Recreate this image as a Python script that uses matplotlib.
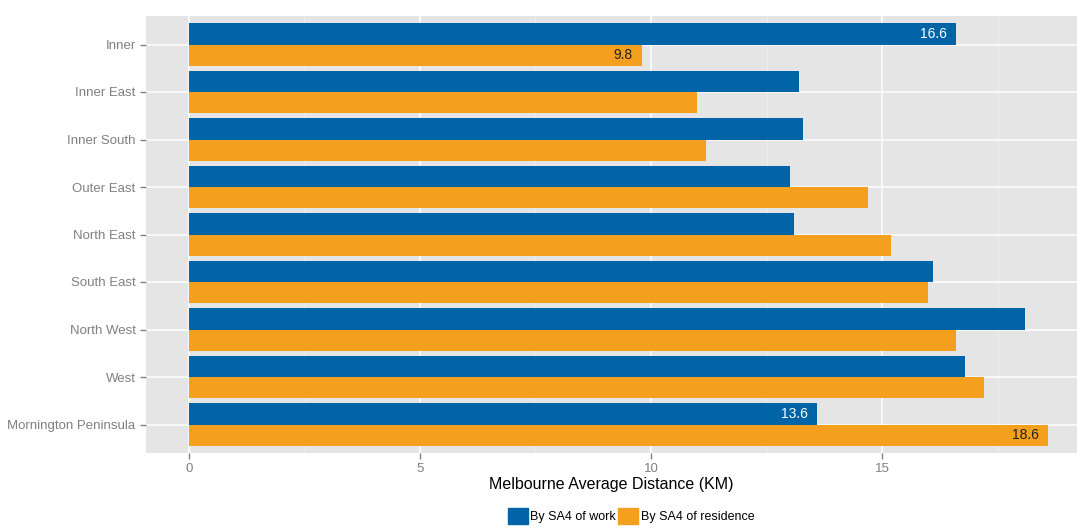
import numpy as np
import matplotlib
matplotlib.use("Agg")
import matplotlib.pyplot as plt
from matplotlib.patches import Patch

plt.rcParams["font.family"] = ["Liberation Sans", "DejaVu Sans"]

# data
regions = ["Inner", "Inner East", "Inner South", "Outer East", "North East",
           "South East", "North West", "West", "Mornington Peninsula"]
by_work = [16.6, 13.2, 13.3, 13.0, 13.1, 16.1, 18.1, 16.8, 13.6]
by_residence = [9.8, 11.0, 11.2, 14.7, 15.2, 16.0, 16.6, 17.2, 18.6]
labelled = ["Inner", "Mornington Peninsula"]

blue = "#0064a6"
orange = "#f49f1e"
grey_text = "#808080"

fig = plt.figure(figsize=(10.77, 5.29), dpi=100)
ax = fig.add_axes([146 / 1077, 1 - 453 / 529, 1 - 146 / 1077, (453 - 16) / 529])
ax.set_facecolor("#e5e5e5")

y = np.arange(len(regions))
h = 0.45
ax.barh(y - h / 2, by_work, height=h, color=blue, zorder=3)
ax.barh(y + h / 2, by_residence, height=h, color=orange, zorder=3)

# value labels for the highlighted regions
for i, name in enumerate(regions):
    if name in labelled:
        ax.text(by_work[i] - 0.2, y[i] - h / 2, f"{by_work[i]:.1f}", color="white",
                ha="right", va="center", fontsize=10, zorder=4)
        ax.text(by_residence[i] - 0.2, y[i] + h / 2, f"{by_residence[i]:.1f}", color="#222222",
                ha="right", va="center", fontsize=10, zorder=4)

ax.set_xlim(-0.93, 19.22)
ax.set_ylim(len(regions) - 0.4, -0.6)
ax.set_yticks(y)
ax.set_yticklabels(regions)
ax.set_xticks([0, 5, 10, 15])
ax.set_xticks([2.5, 7.5, 12.5, 17.5], minor=True)

ax.grid(which="major", color="white", linewidth=1.1, zorder=1)
ax.grid(which="minor", axis="x", color="#f2f2f2", linewidth=0.5, zorder=1)
for s in ax.spines.values():
    s.set_visible(False)
ax.tick_params(which="major", colors=grey_text, labelsize=9.5, length=4, width=1)
ax.tick_params(which="minor", length=0)
ax.tick_params(axis="x", pad=3)

ax.set_xlabel("Melbourne Average Distance (KM)", fontsize=11.5, color="black", labelpad=2)

handles = [Patch(color=blue, label="By SA4 of work"),
           Patch(color=orange, label="By SA4 of residence")]
fig.legend(handles=handles, loc="lower center", bbox_to_anchor=(631 / 1077, -0.012),
           ncol=2, frameon=False, fontsize=9, handlelength=1.6, handleheight=1.6,
           handletextpad=0.2, columnspacing=0.2)

fig.savefig("out.png", dpi=100)
